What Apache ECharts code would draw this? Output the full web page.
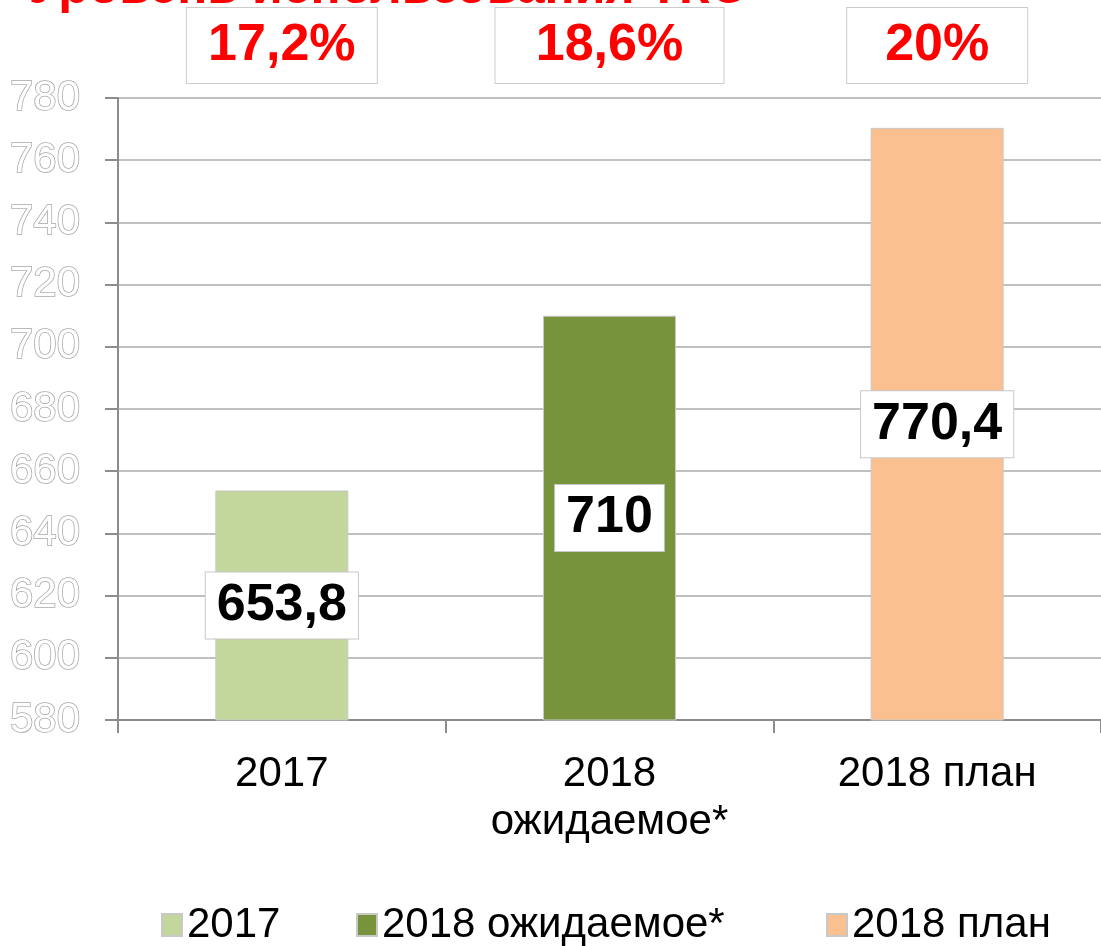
<!DOCTYPE html>
<html>
<head>
<meta charset="utf-8">
<script src="https://cdn.jsdelivr.net/npm/echarts@6/dist/echarts.min.js"></script>
<style>
  html, body { margin: 0; padding: 0; background: #ffffff; }
  #chart { width: 1101px; height: 946px; }
</style>
</head>
<body>
<div id="chart"></div>
<script>
// ---- data ----
const categories = ['2017', '2018\nожидаемое*', '2018 план'];
const seriesNames = ['2017', '2018 ожидаемое*', '2018 план'];
const values = [653.8, 710, 770.4];
const shares = ['17,2%', '18,6%', '20%'];
const titleText = 'Уровень использования ТКО';
const yMin = 580, yMax = 780, yStep = 20;

const colors = ['#C3D69B', '#77933C', '#FAC090'];
const FONT = '"Liberation Sans", Arial, sans-serif';

const chart = echarts.init(document.getElementById('chart'));

const series = seriesNames.map((name, i) => ({
  name: name,
  type: 'bar',
  barWidth: 133,
  barGap: '-100%',
  xAxisIndex: 0,
  yAxisIndex: 0,
  itemStyle: { color: colors[i], borderColor: '#c8c8c8', borderWidth: 1 },
  data: categories.map((c, j) => (j === i ? values[i] : '-')),
  label: {
    show: true,
    position: 'inside',
    formatter: p => String(p.value).replace('.', ','),
    color: '#000',
    fontFamily: FONT,
    fontWeight: 'bold',
    fontSize: 52,
    backgroundColor: '#ffffff',
    borderColor: '#c8c8c8',
    borderWidth: 1,
    padding: [8, 11, 6, 11]
  },
  silent: true
}));

const boxWidths = [190, 228, 180];

const option = {
  animation: false,
  backgroundColor: '#ffffff',
  title: {
    text: titleText,
    left: 24,
    top: -41,
    textStyle: { color: '#FF0000', fontFamily: FONT, fontWeight: 'bold', fontSize: 50 }
  },
  legend: seriesNames.map((name, i) => ({
    data: [name],
    left: [156, 351, 821][i],
    top: 899,
    itemWidth: 20,
    itemHeight: 22,
    itemGap: 0,
    icon: 'rect',
    selectedMode: false,
    textStyle: { fontFamily: FONT, fontSize: 42, color: '#000', padding: [0, 0, 0, 0] }
  })),
  grid: { left: 118, top: 98, width: 987, height: 622 },
  xAxis: [
    {
      type: 'category',
      data: categories,
      position: 'bottom',
      axisLine: { lineStyle: { color: '#8c8c8c', width: 2 } },
      axisTick: { show: true, length: 13, lineStyle: { color: '#8c8c8c', width: 2 } },
      axisLabel: {
        fontFamily: FONT, fontSize: 42, color: '#000', margin: 30, lineHeight: 48
      }
    },
    {
      type: 'category',
      data: shares,
      position: 'top',
      axisLine: { show: false },
      axisTick: { show: false },
      axisLabel: {
        margin: 15,
        formatter: (v, i) => '{b' + i + '|' + v + '}',
        rich: Object.fromEntries(boxWidths.map((w, i) => ['b' + i, {
          width: w,
          height: 60,
          align: 'center',
          color: '#FF0000',
          fontFamily: FONT,
          fontWeight: 'bold',
          fontSize: 52,
          backgroundColor: '#ffffff',
          borderColor: '#cccccc',
          borderWidth: 1,
          padding: [8, 0, 7, 0]
        }]))
      }
    }
  ],
  yAxis: {
    type: 'value',
    min: yMin,
    max: yMax,
    interval: yStep,
    axisLine: { show: true, lineStyle: { color: '#8c8c8c', width: 2 } },
    axisTick: { show: true, length: 13, lineStyle: { color: '#8c8c8c', width: 2 } },
    splitLine: { lineStyle: { color: '#c0c0c0', width: 2 } },
    axisLabel: {
      margin: 38,
      fontFamily: FONT,
      fontSize: 42,
      color: '#ffffff',
      textBorderColor: '#a6a6a6',
      textBorderWidth: 1.5
    }
  },
  series: series
};

chart.setOption(option);
</script>
</body>
</html>
